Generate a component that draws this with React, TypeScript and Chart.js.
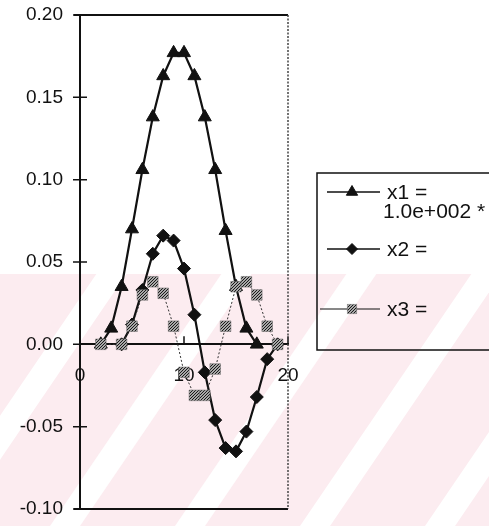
import React, { useEffect, useRef } from "react";
import { Chart, registerables } from "chart.js";
import * as helpers from "chart.js/helpers";

Chart.register(...registerables);

// ---- data ----
const x1X = [2, 3, 4, 5, 6, 7, 8, 9, 10, 11, 12, 13, 14, 15, 16, 17];
const x1Y = [0, 0.0097, 0.035, 0.070, 0.106, 0.138, 0.163, 0.177, 0.177, 0.163, 0.138, 0.106, 0.069, 0.035, 0.0097, 0];

const x2X = [4, 5, 6, 7, 8, 9, 10, 11, 12, 13, 14, 15, 16, 17, 18, 19];
const x2Y = [0, 0.012, 0.033, 0.055, 0.066, 0.063, 0.046, 0.018, -0.017, -0.046, -0.063, -0.065, -0.053, -0.032, -0.009, 0];

const x3X = [2, 4, 5, 6, 7, 8, 9, 10, 11, 12, 13, 14, 15, 16, 17, 18, 19];
const x3Y = [0, 0, 0.011, 0.030, 0.038, 0.031, 0.011, -0.017, -0.031, -0.031, -0.015, 0.011, 0.035, 0.038, 0.030, 0.011, 0];

const seriesNames = ["x1 =", "x2 =", "x3 ="];
const x1Multiplier = "1.0e+002 *";

const xTicks = [0, 10, 20];
const yTicks = [-0.1, -0.05, 0, 0.05, 0.1, 0.15, 0.2];

const W = 489;
const H = 526;
const FONT = '"Liberation Sans", Arial, sans-serif';

const toPoints = (xs: number[], ys: number[]) => xs.map((x, i) => ({ x, y: ys[i] }));

export default function App() {
  const ref = useRef<HTMLCanvasElement>(null);

  useEffect(() => {
    const canvas = ref.current!;
    const pc = document.createElement("canvas");
    pc.width = 3;
    pc.height = 3;
    const pctx = pc.getContext("2d")!;
    pctx.fillStyle = "#a8a8a8";
    pctx.fillRect(0, 0, 3, 3);
    pctx.fillStyle = "#1a1a1a";
    pctx.fillRect(0, 0, 1, 1);
    pctx.fillRect(2, 1, 1, 1);
    pctx.fillRect(1, 2, 1, 1);
    const pattern = canvas.getContext("2d")!.createPattern(pc, "repeat")!;

    const background = {
      id: "background",
      beforeDraw(chart: any) {
        const { ctx, width, height } = chart;
        ctx.save();
        ctx.fillStyle = "#ffffff";
        ctx.fillRect(0, 0, width, height);
        const top = 274;
        ctx.fillStyle = "rgb(252,236,240)";
        ctx.fillRect(0, top, width, height - top);
        ctx.fillStyle = "#ffffff";
        const s = 0.68;
        for (const x0 of [-60, 65, 190, 315, 440]) {
          const d = s * (height - top);
          ctx.beginPath();
          ctx.moveTo(x0 - 15, height);
          ctx.lineTo(x0 + 15, height);
          ctx.lineTo(x0 + 15 + d, top);
          ctx.lineTo(x0 - 15 + d, top);
          ctx.closePath();
          ctx.fill();
        }
        ctx.restore();
      },
    };

    const frame = {
      id: "frame",
      afterDraw(chart: any) {
        const { ctx, chartArea } = chart;
        const xs = chart.scales.x;
        const ys = chart.scales.y;
        const y0 = ys.getPixelForValue(0);
        ctx.save();
        ctx.strokeStyle = "#111";
        ctx.lineWidth = 2;
        ctx.beginPath();
        ctx.moveTo(chartArea.left - 6, chartArea.top);
        ctx.lineTo(chartArea.right, chartArea.top);
        ctx.moveTo(chartArea.left - 6, chartArea.bottom);
        ctx.lineTo(chartArea.right, chartArea.bottom);
        ctx.stroke();
        ctx.lineWidth = 1.5;
        ctx.beginPath();
        for (const t of ys.ticks) {
          const py = ys.getPixelForValue(t.value);
          ctx.moveTo(chartArea.left - 7, py);
          ctx.lineTo(chartArea.left + 7, py);
        }
        for (const t of xs.ticks) {
          const px = xs.getPixelForValue(t.value);
          ctx.moveTo(px, y0 - 8);
          ctx.lineTo(px, y0);
        }
        ctx.stroke();
        ctx.strokeStyle = "#444";
        ctx.lineWidth = 1.5;
        ctx.setLineDash([2, 1.5]);
        ctx.beginPath();
        ctx.moveTo(chartArea.right, chartArea.top);
        ctx.lineTo(chartArea.right, chartArea.bottom);
        ctx.stroke();
        ctx.restore();
      },
    };

    const legendBox = {
      id: "legendBox",
      afterDraw(chart: any) {
        const { ctx } = chart;
        const left = 317;
        const top = 173;
        const bottom = 350;
        ctx.save();
        ctx.strokeStyle = "#111";
        ctx.lineWidth = 1.5;
        ctx.strokeRect(left, top, W - left + 5, bottom - top);
        const rows = [192, 249, 309];
        ctx.font = "21px " + FONT;
        ctx.textBaseline = "middle";
        ctx.textAlign = "left";
        chart.data.datasets.forEach((ds: any, i: number) => {
          const y = rows[i];
          ctx.strokeStyle = "#111";
          ctx.lineWidth = i === 2 ? 1 : 1.5;
          ctx.setLineDash([]);
          ctx.beginPath();
          ctx.moveTo(i === 2 ? 320 : 327, y);
          ctx.lineTo(380, y);
          ctx.stroke();
          ctx.fillStyle = ds.pointBackgroundColor;
          ctx.strokeStyle = ds.pointBorderColor;
          ctx.lineWidth = ds.pointBorderWidth;
          helpers.drawPoint(
            ctx,
            { pointStyle: ds.pointStyle, radius: ds.pointRadius - 1, borderWidth: ds.pointBorderWidth, rotation: 0 },
            352,
            y
          );
          ctx.fillStyle = "#111";
          ctx.fillText(ds.label, 387, y + 1);
        });
        ctx.fillText(x1Multiplier, 383, 212);
        ctx.restore();
      },
    };

    const chart = new Chart(canvas, {
      type: "scatter",
      data: {
        datasets: [
          {
            label: seriesNames[0],
            data: toPoints(x1X, x1Y),
            showLine: true,
            borderColor: "#111",
            borderWidth: 2.2,
            pointStyle: "triangle",
            pointRadius: 7.5,
            pointBackgroundColor: "#111",
            pointBorderColor: "#111",
            pointBorderWidth: 1,
            order: 2,
          },
          {
            label: seriesNames[1],
            data: toPoints(x2X, x2Y),
            showLine: true,
            borderColor: "#111",
            borderWidth: 2.2,
            pointStyle: "rectRot",
            pointRadius: 6.5,
            pointBackgroundColor: "#111",
            pointBorderColor: "#111",
            pointBorderWidth: 1,
            order: 1,
          },
          {
            label: seriesNames[2],
            data: toPoints(x3X, x3Y),
            showLine: true,
            borderColor: "#333",
            borderWidth: 1,
            borderDash: [2, 2],
            pointStyle: "rect",
            pointRadius: 7.5,
            pointBackgroundColor: pattern as any,
            pointBorderColor: "#666",
            pointBorderWidth: 0.5,
            order: 0,
          },
        ],
      },
      options: {
        responsive: false,
        animation: false,
        devicePixelRatio: 1,
        layout: { padding: { left: 0, right: 201, top: 15, bottom: 17 } },
        plugins: { legend: { display: false }, tooltip: { enabled: false } },
        scales: {
          x: {
            type: "linear",
            min: 0,
            max: 20,
            position: { y: 0 } as any,
            z: 1,
            afterBuildTicks: (s: any) => {
              s.ticks = xTicks.map((v) => ({ value: v }));
            },
            afterFit: (s: any) => {
              s.paddingLeft = 0;
              s.paddingRight = 0;
              s.paddingTop = 0;
              s.paddingBottom = 0;
            },
            ticks: {
              font: { size: 19, family: FONT },
              color: "#111",
              padding: 0,
              maxRotation: 0,
              autoSkip: false,
            },
            grid: { display: true, drawOnChartArea: false, drawTicks: true, tickLength: 20, color: "rgba(0,0,0,0)" },
            border: { display: true, color: "#111", width: 2 },
          },
          y: {
            type: "linear",
            min: -0.1,
            max: 0.2,
            afterBuildTicks: (s: any) => {
              s.ticks = yTicks.map((v) => ({ value: v }));
            },
            afterFit: (s: any) => {
              s.width = 80;
              s.paddingTop = 0;
              s.paddingBottom = 0;
            },
            ticks: {
              callback: (v: any) => Number(v).toFixed(2),
              font: { size: 19, family: FONT },
              color: "#111",
              padding: 17,
              autoSkip: false,
            },
            grid: { display: false, drawTicks: false },
            border: { display: true, color: "#111", width: 2 },
          },
        },
      },
      plugins: [background, frame, legendBox],
    });
    return () => chart.destroy();
  }, []);

  return (
    <div style={{ position: "absolute", left: 0, top: 0, width: W, height: H }}>
      <canvas ref={ref} width={W} height={H} style={{ width: W, height: H, display: "block" }} />
    </div>
  );
}
